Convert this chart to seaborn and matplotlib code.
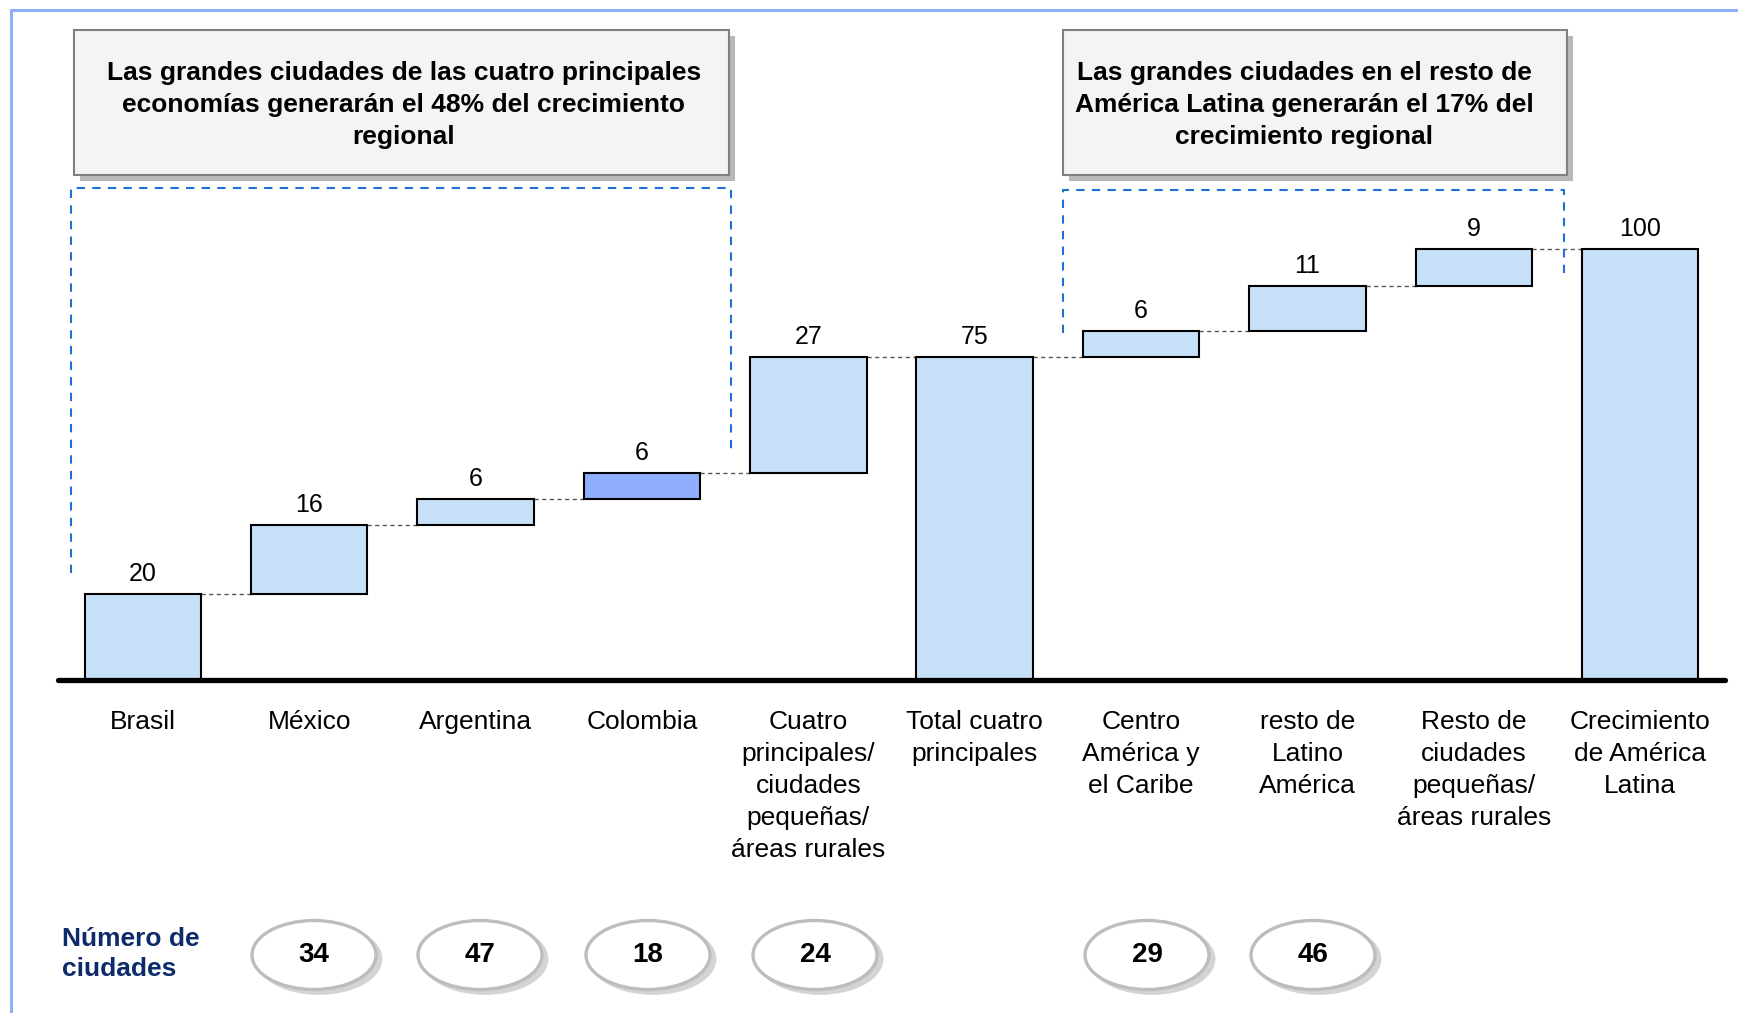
import matplotlib
matplotlib.use("Agg")
import matplotlib.pyplot as plt
import matplotlib.patches as mpatches
import matplotlib.lines as mlines
import numpy as np
import pandas as pd
import seaborn as sns

# ---------------- data ----------------
categories = ["Brasil", "México", "Argentina", "Colombia",
              "Cuatro\nprincipales/\nciudades\npequeñas/\náreas rurales",
              "Total cuatro\nprincipales",
              "Centro\nAmérica y\nel Caribe",
              "resto de\nLatino\nAmérica",
              "Resto de\nciudades\npequeñas/\náreas rurales",
              "Crecimiento\nde América\nLatina"]
bar_heights = [20, 16, 6, 6, 27, 75, 6, 10.5, 8.5, 100]
bar_kinds = ["step", "step", "step", "step", "step", "total", "step", "step", "step", "total"]
value_labels = ["20", "16", "6", "6", "27", "75", "6", "11", "9", "100"]
city_counts = ["34", "47", "18", "24", "29", "46"]
box_texts = ["Las grandes ciudades de las cuatro principales\neconomías generarán el 48% del crecimiento\nregional",
             "Las grandes ciudades en el resto de\nAmérica Latina generarán el 17% del\ncrecimiento regional"]
count_title = "Número de\nciudades"

# bases of the floating bars
bases = []
running = 0.0
for h, k in zip(bar_heights, bar_kinds):
    if k == "total":
        bases.append(0.0)
        running = h
    else:
        bases.append(running)
        running += h

# ---------------- style ----------------
W, H = 1738, 1013
sns.set_theme(style="white")
plt.rcParams["font.family"] = ["Liberation Sans", "DejaVu Sans"]
plt.rcParams["text.color"] = "black"
plt.rcParams["xtick.color"] = "black"
plt.rcParams["xtick.labelcolor"] = "black"

LIGHT = "#C6E0F8"
DARK = "#8FAEFB"
bar_colors = [LIGHT, LIGHT, LIGHT, DARK, LIGHT, LIGHT, LIGHT, LIGHT, LIGHT, LIGHT]

fig = plt.figure(figsize=(W / 100, H / 100), dpi=100)
fig.patch.set_facecolor("white")

def fx(px):
    return px / W

def fy(py):
    return 1 - py / H

# axes: baseline at y=680px, 4.31 px per unit
ax_left, ax_right = 58, 1725
base_px = 680
ppu = 4.31
ax = fig.add_axes([fx(ax_left), fy(base_px), fx(ax_right) - fx(ax_left), fy(0) - fy(base_px)])
ax.set_facecolor("none")

df = pd.DataFrame({"cat": categories, "height": bar_heights})
sns.barplot(data=df, x="cat", y="height", bottom=bases, color=LIGHT,
            saturation=1, edgecolor="black", linewidth=1.5, width=0.7,
            errorbar=None, ax=ax, zorder=3)
for p, c in zip(ax.patches, bar_colors):
    p.set_facecolor(c)

ax.set_xlim(-0.51, 9.51)
ax.set_ylim(0, base_px / ppu)
for s in ax.spines.values():
    s.set_visible(False)
ax.set_yticks([])
ax.set_xlabel("")
ax.set_ylabel("")
ax.set_xticks(range(len(categories)))
ax.set_xticklabels(categories, fontsize=19, linespacing=1.42, color="black")
ax.tick_params(axis="x", length=0, pad=21.5)
ax.axhline(0, color="black", lw=3.8, clip_on=False, zorder=5, solid_capstyle="round")

# value labels
for i, (b, h, lab) in enumerate(zip(bases, bar_heights, value_labels)):
    ax.annotate(lab, (i, b + h), xytext=(0, 5.5), textcoords="offset points",
                ha="center", va="bottom", fontsize=18, color="black", annotation_clip=False)

# connectors
bw = 0.35
for i in range(len(categories) - 1):
    lvl = bases[i] + bar_heights[i]
    ax.plot([i + bw, i + 1 - bw], [lvl, lvl], color="#555555", lw=1.0,
            ls=(0, (3, 2.5)), zorder=2, clip_on=False)

# ---------------- decorations in figure pixels ----------------
# outer light-blue frame
fig.add_artist(mlines.Line2D([fx(11), fx(W + 5)], [fy(10), fy(10)], color="#8FB0F8", lw=2.2))
fig.add_artist(mlines.Line2D([fx(11), fx(11)], [fy(10), fy(H + 5)], color="#8FB0F8", lw=2.2))

# annotation boxes
boxes = [(74, 30, 729, 175, 404), (1063, 30, 1567, 175, 1304)]
for (x0, y0, x1, y1, tx), txt in zip(boxes, box_texts):
    sh = mpatches.Rectangle((fx(x0 + 6), fy(y1 + 6)), fx(x1) - fx(x0), fy(y0) - fy(y1),
                            transform=fig.transFigure, facecolor="#B8B8B8",
                            edgecolor="none", zorder=1)
    fig.add_artist(sh)
    r = mpatches.Rectangle((fx(x0), fy(y1)), fx(x1) - fx(x0), fy(y0) - fy(y1),
                           transform=fig.transFigure, facecolor="#F4F4F4",
                           edgecolor="#808080", lw=1.5, zorder=2)
    fig.add_artist(r)
    fig.text(fx(tx), fy(105), txt, ha="center", va="center", fontsize=19,
             fontweight="bold", linespacing=1.43, zorder=3, color="black")

# dashed blue brackets
BL = "#1F6FD6"
brackets = [(71, 188, 731, 573, 449), (1063, 190, 1564, 333, 277)]
for x0, ytop, x1, yl, yr in brackets:
    fig.add_artist(mlines.Line2D([fx(x0), fx(x0), fx(x1), fx(x1)],
                                 [fy(yl), fy(ytop), fy(ytop), fy(yr)],
                                 color=BL, lw=1.5, ls=(0, (4, 3.5))))

# number of cities
fig.text(fx(62), fy(954), count_title, ha="left", va="center", fontsize=19,
         fontweight="bold", color="#0D2B6B", linespacing=1.3)
ell_x = [314, 480, 648, 815, 1147, 1313]
ell_y = 955
ew, eh = 124, 69
for x, n in zip(ell_x, city_counts):
    shadow = mpatches.Ellipse((fx(x + 5), fy(ell_y + 4)), fx(ew), eh / H,
                              transform=fig.transFigure, facecolor="#D4D4D4",
                              edgecolor="#D4D4D4", lw=2)
    fig.add_artist(shadow)
    e = mpatches.Ellipse((fx(x), fy(ell_y)), fx(ew), eh / H,
                         transform=fig.transFigure, facecolor="white",
                         edgecolor="#BDBDBD", lw=2.4)
    fig.add_artist(e)
    fig.text(fx(x), fy(ell_y), n, ha="center", va="center", fontsize=20,
             fontweight="bold", color="black")

fig.savefig("out.png", dpi=100, facecolor="white")
